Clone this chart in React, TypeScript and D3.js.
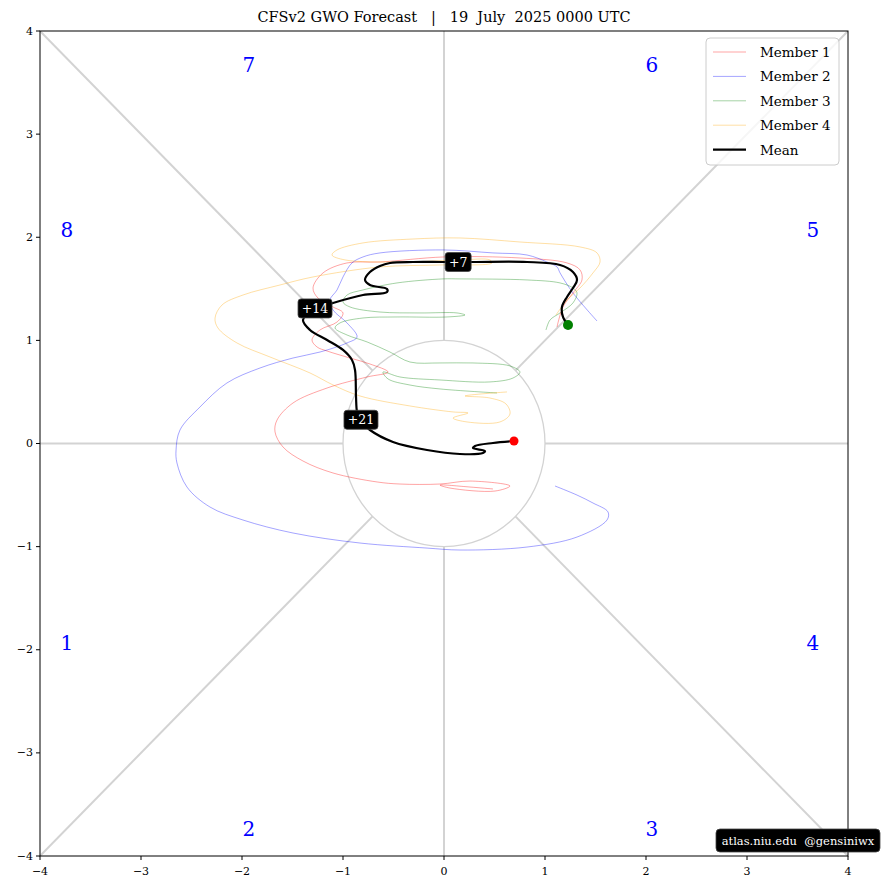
import React from "react";
import * as d3 from "d3";

type P = [number, number];

const TITLE = "CFSv2 GWO Forecast   |   19  July  2025 0000 UTC";
const TICKS = [-4, -3, -2, -1, 0, 1, 2, 3, 4];

const member1: P[] = [
  [1.119, 1.13], [1.178, 1.324], [1.277, 1.46], [1.366, 1.586], [1.347, 1.683], [1.218, 1.751],
  [0.752, 1.799], [0.0, 1.809], [-0.634, 1.76], [-0.96, 1.751], [-1.198, 1.654], [-1.297, 1.508],
  [-1.248, 1.411], [-1.099, 1.324], [-1.0, 1.266], [-1.059, 1.178], [-1.228, 1.101], [-1.307, 1.004],
  [-1.257, 0.936], [-1.158, 0.897], [-0.931, 0.829], [-0.733, 0.771], [-0.554, 0.693], [-0.762, 0.645],
  [-1.158, 0.538], [-1.495, 0.393], [-1.653, 0.228], [-1.673, 0.112], [-1.594, -0.034], [-1.396, -0.17],
  [-1.099, -0.286], [-0.663, -0.373], [-0.436, -0.393], [-0.04, -0.393], [0.257, -0.364], [0.653, -0.412],
  [0.505, -0.461], [0.059, -0.432], [-0.04, -0.403], [0.257, -0.422], [0.485, -0.441],
];

const member2: P[] = [
  [1.515, 1.188], [1.277, 1.46], [1.149, 1.654], [1.119, 1.712], [1.02, 1.76], [0.822, 1.828],
  [0.485, 1.848], [-0.01, 1.877], [-0.634, 1.848], [-0.802, 1.809], [-0.911, 1.751], [-1.0, 1.615],
  [-1.059, 1.489], [-1.129, 1.392], [-1.099, 1.295], [-0.96, 1.169], [-0.861, 1.033], [-0.96, 0.975],
  [-1.228, 0.887], [-1.495, 0.829], [-1.822, 0.732], [-2.149, 0.587], [-2.416, 0.354], [-2.614, 0.131],
  [-2.653, -0.063], [-2.644, -0.189], [-2.545, -0.422], [-2.317, -0.616], [-1.99, -0.742], [-1.495, -0.868],
  [-0.832, -0.965], [-0.168, -1.014], [0.158, -1.033], [0.822, -1.004], [1.317, -0.907], [1.614, -0.742],
  [1.624, -0.664], [1.475, -0.577], [1.317, -0.5], [1.099, -0.412],
];

const member3: P[] = [
  [1.01, 1.101], [1.05, 1.198], [1.149, 1.266], [1.277, 1.363], [1.317, 1.46], [1.277, 1.508],
  [1.149, 1.557], [0.822, 1.586], [0.158, 1.596], [-0.01, 1.596], [-0.465, 1.557], [-0.802, 1.489],
  [-0.96, 1.44], [-1.0, 1.372], [-0.931, 1.324], [-0.634, 1.275], [-0.238, 1.266], [0.129, 1.266],
  [0.208, 1.246], [0.03, 1.227], [-0.465, 1.227], [-0.802, 1.217], [-1.03, 1.169], [-1.079, 1.12],
  [-0.96, 1.052], [-0.762, 0.985], [-0.535, 0.887], [-0.337, 0.79], [-0.04, 0.781], [0.287, 0.781],
  [0.653, 0.752], [0.752, 0.693], [0.683, 0.635], [0.455, 0.597], [-0.04, 0.616], [-0.436, 0.645],
  [-0.604, 0.693], [-0.554, 0.626], [-0.337, 0.567], [-0.04, 0.529], [0.525, 0.49],
];

const member4: P[] = [
  [1.109, 1.246], [1.218, 1.392], [1.347, 1.508], [1.475, 1.654], [1.545, 1.76], [1.515, 1.848],
  [1.347, 1.906], [0.752, 1.954], [0.158, 1.993], [-0.307, 1.983], [-0.802, 1.945], [-1.059, 1.877],
  [-1.109, 1.828], [-0.98, 1.78], [-0.436, 1.76], [0.158, 1.78], [0.455, 1.78], [0.475, 1.751],
  [-0.04, 1.731], [-0.634, 1.712], [-1.297, 1.615], [-1.624, 1.537], [-1.99, 1.44], [-2.198, 1.343],
  [-2.267, 1.217], [-2.238, 1.12], [-2.05, 0.975], [-1.723, 0.839], [-1.327, 0.684], [-1.099, 0.568],
  [-0.832, 0.461], [-0.337, 0.364], [0.089, 0.306], [0.238, 0.296], [0.089, 0.247], [0.228, 0.209],
  [0.554, 0.209], [0.653, 0.286], [0.614, 0.383], [0.455, 0.441], [0.208, 0.461], [0.624, 0.5],
];

const meanPath: P[] = [
  [1.228, 1.149], [1.178, 1.227], [1.168, 1.324], [1.218, 1.421], [1.277, 1.508], [1.317, 1.586],
  [1.277, 1.663], [1.149, 1.731], [0.822, 1.76], [0.287, 1.76], [-0.01, 1.76], [-0.307, 1.76],
  [-0.535, 1.75], [-0.634, 1.721], [-0.733, 1.663], [-0.782, 1.586], [-0.733, 1.537], [-0.564, 1.498],
  [-0.564, 1.469], [-0.802, 1.44], [-1.099, 1.363], [-1.277, 1.305], [-1.396, 1.198], [-1.327, 1.101],
  [-1.158, 1.004], [-1.0, 0.907], [-0.911, 0.81], [-0.881, 0.713], [-0.871, 0.451], [-0.861, 0.305],
  [-0.832, 0.228], [-0.733, 0.131], [-0.505, 0.015], [-0.168, -0.063], [0.158, -0.102], [0.386, -0.092],
  [0.406, -0.073], [0.287, -0.044], [0.307, -0.024], [0.485, 0.005], [0.693, 0.024],
];

const dayLabels = ["+7", "+14", "+21"];
const dayLabelPos: P[] = [[0.14, 1.76], [-1.277, 1.31], [-0.822, 0.23]];

const phaseNames = ["1", "2", "3", "4", "5", "6", "7", "8"];
const phasePos: P[] = [
  [-3.733, -1.935], [-1.931, -3.739], [2.059, -3.739], [3.653, -1.935],
  [3.653, 2.071], [2.059, 3.671], [-1.931, 3.671], [-3.733, 2.071],
];

const phaseLineEnds: P[] = [[4, 0], [4, 4], [0, 4], [-4, 4], [-4, 0], [-4, -4], [0, -4], [4, -4]];

const seriesNames = ["Member 1", "Member 2", "Member 3", "Member 4", "Mean"];
const seriesColors = ["rgba(255,0,0,0.4)", "rgba(0,0,255,0.4)", "rgba(0,128,0,0.4)", "rgba(255,165,0,0.4)", "#000"];
const members = [member1, member2, member3, member4];

const W = 881, H = 890;
const FONT = "'DejaVu Serif', serif";

export default function App() {
  const x = d3.scaleLinear().domain([-4, 4]).range([40, 848]);
  const y = d3.scaleLinear().domain([-4, 4]).range([856, 31]);
  const line = d3.line<P>().x(d => x(d[0])).y(d => y(d[1])).curve(d3.curveCatmullRom.alpha(0.5));
  const r1 = x(1) - x(0);
  const ry1 = y(0) - y(1);
  const start = meanPath[0];
  const end = meanPath[meanPath.length - 1];

  return (
    <svg width={W} height={H} style={{ position: "absolute", left: 0, top: 0, background: "#fff" }} fontFamily={FONT}>
      <rect width={W} height={H} fill="#fff" />
      <defs>
        <clipPath id="plotclip"><rect x={40} y={31} width={808} height={825} /></clipPath>
      </defs>
      <g clipPath="url(#plotclip)">
        {phaseLineEnds.map((e, i) => {
          const len = Math.hypot(e[0], e[1]);
          const s: P = [e[0] / len, e[1] / len];
          return <line key={i} x1={x(s[0])} y1={y(s[1])} x2={x(e[0])} y2={y(e[1])} stroke="#d3d3d3" strokeWidth={2} />;
        })}
        <ellipse cx={x(0)} cy={y(0)} rx={r1} ry={ry1} fill="none" stroke="#d3d3d3" strokeWidth={1.3} />
        {phaseNames.map((n, i) => (
          <text key={n} x={x(phasePos[i][0])} y={y(phasePos[i][1])} fill="#0000ff" fontSize={20} textAnchor="middle" dominantBaseline="central">{n}</text>
        ))}
        {members.map((m, i) => (
          <path key={i} d={line(m) || ""} fill="none" stroke={seriesColors[i]} strokeWidth={0.9} />
        ))}
        <path d={line(meanPath) || ""} fill="none" stroke="#000" strokeWidth={2.2} />
        <circle cx={x(start[0])} cy={y(start[1])} r={5} fill="green" />
        <circle cx={x(end[0])} cy={y(end[1])} r={4.5} fill="red" />
        {dayLabels.map((t, i) => {
          const w = t.length * 8 + 10;
          const cx = x(dayLabelPos[i][0]);
          const cy = y(dayLabelPos[i][1]);
          return (
            <g key={t}>
              <rect x={cx - w / 2} y={cy - 9.5} width={w} height={19} rx={3} fill="#000" stroke="#444" strokeWidth={0.8} />
              <text x={cx} y={cy} fill="#fff" fontSize={12.5} textAnchor="middle" dominantBaseline="central">{t}</text>
            </g>
          );
        })}
      </g>
      <rect x={40} y={31} width={808} height={825} fill="none" stroke="#000" strokeWidth={1} />
      {TICKS.map(t => (
        <g key={"x" + t}>
          <line x1={x(t)} x2={x(t)} y1={856} y2={860} stroke="#000" />
          <text x={x(t)} y={875} fontSize={11} textAnchor="middle">{t < 0 ? "\u2212" + Math.abs(t) : t}</text>
        </g>
      ))}
      {TICKS.map(t => (
        <g key={"y" + t}>
          <line x1={36} x2={40} y1={y(t)} y2={y(t)} stroke="#000" />
          <text x={33} y={y(t)} fontSize={11} textAnchor="end" dominantBaseline="central">{t < 0 ? "\u2212" + Math.abs(t) : t}</text>
        </g>
      ))}
      <text x={444} y={22} fontSize={14.5} textAnchor="middle" style={{ whiteSpace: "pre" }}>{TITLE}</text>
      <g>
        <rect x={706} y={38} width={133} height={127} rx={4} fill="rgba(255,255,255,0.8)" stroke="#cccccc" strokeWidth={1} />
        {seriesNames.map((n, i) => {
          const yy = 52 + i * 24.4;
          return (
            <g key={n}>
              <line x1={713} x2={746} y1={yy} y2={yy} stroke={seriesColors[i]} strokeWidth={i === 4 ? 2.2 : 0.9} />
              <text x={760} y={yy} fontSize={13.5} dominantBaseline="central">{n}</text>
            </g>
          );
        })}
      </g>
      <g>
        <rect x={716} y={829} width={164} height={23} rx={4} fill="#000" stroke="#444" strokeWidth={0.8} />
        <text x={798} y={841} fill="#fff" fontSize={11.5} textAnchor="middle" dominantBaseline="central" style={{ whiteSpace: "pre" }}>{"atlas.niu.edu  @gensiniwx"}</text>
      </g>
    </svg>
  );
}
